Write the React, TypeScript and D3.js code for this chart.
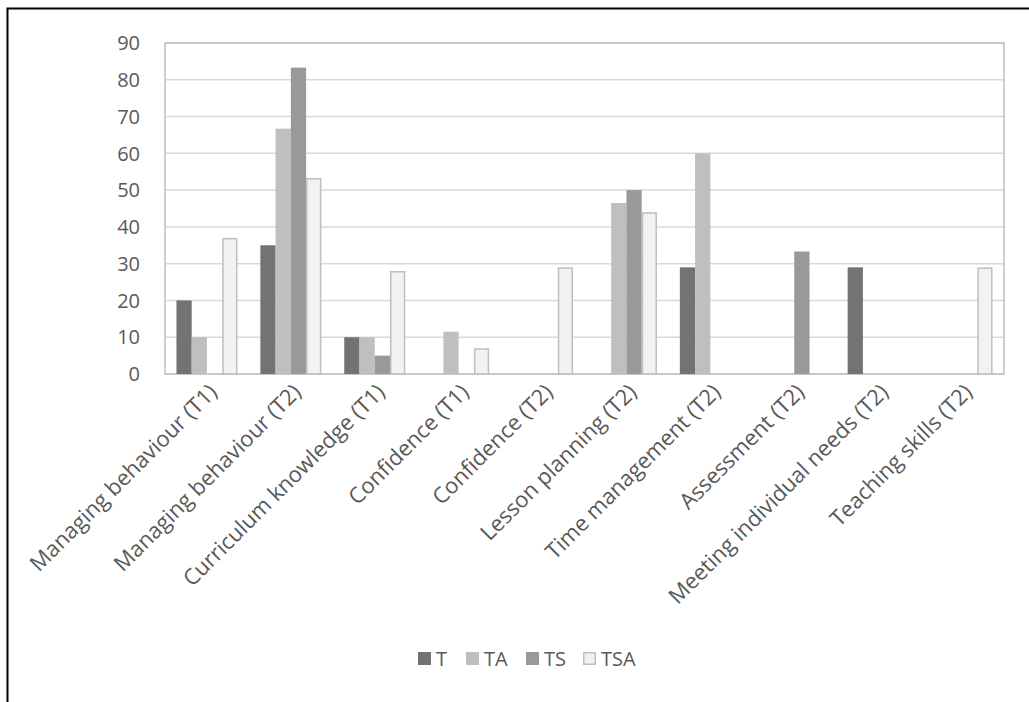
import React from "react";
import * as d3 from "d3";

const categories = [
  "Managing behaviour (T1)",
  "Managing behaviour (T2)",
  "Curriculum knowledge (T1)",
  "Confidence (T1)",
  "Confidence (T2)",
  "Lesson planning (T2)",
  "Time management (T2)",
  "Assessment (T2)",
  "Meeting individual needs (T2)",
  "Teaching skills (T2)",
];

const seriesNames = ["T", "TA", "TS", "TSA"];
const valuesT = [20, 35, 10, 0, 0, 0, 29, 0, 29, 0];
const valuesTA = [10, 66.7, 10, 11.5, 0, 46.5, 60, 0, 0, 0];
const valuesTS = [0, 83.3, 5, 0, 0, 50, 0, 33.3, 0, 0];
const valuesTSA = [37, 53.3, 28, 7, 29, 44, 0, 0, 0, 29];
const yTicks = [0, 10, 20, 30, 40, 50, 60, 70, 80, 90];

const fills = ["#737373", "#bfbfbf", "#999999", "#f2f2f2"];
const strokes = ["none", "none", "none", "#bfbfbf"];

const W = 1029;
const H = 702;
const left = 165;
const right = 1004;
const top = 43;
const bottom = 374;
const font = "'Open Sans', Lato, sans-serif";
const textColor = "#595959";

export default function App() {
  const series = [valuesT, valuesTA, valuesTS, valuesTSA];
  const x = d3.scaleBand<string>().domain(categories).range([left, right]).padding(0);
  const bw = x.bandwidth() / 5.5;
  const xs = d3
    .scaleBand<string>()
    .domain(seriesNames)
    .range([0, bw * 4])
    .padding(0);
  const y = d3.scaleLinear().domain([0, 90]).range([bottom, top]);

  return (
    <svg
      width={W}
      height={H}
      style={{ position: "absolute", left: 0, top: 0, background: "#fff" }}
      fontFamily={font}
    >
      <rect x={0} y={0} width={W} height={H} fill="#fff" />
      {/* outer frame */}
      <path d={`M7.5,${H} V8.5 H${W}`} fill="none" stroke="#000" strokeWidth={2} />

      {/* gridlines */}
      {yTicks.map((t) => (
        <line
          key={t}
          x1={left}
          x2={right}
          y1={y(t)}
          y2={y(t)}
          stroke="#d9d9d9"
          strokeWidth={1.5}
        />
      ))}
      {/* plot border */}
      <rect
        x={left}
        y={top}
        width={right - left}
        height={bottom - top}
        fill="none"
        stroke="#bfbfbf"
        strokeWidth={1.5}
      />

      {/* y tick labels */}
      {yTicks.map((t) => (
        <text
          key={t}
          x={140}
          y={y(t)}
          dy="0.36em"
          textAnchor="end"
          fontSize={20}
          fill={textColor}
        >
          {t}
        </text>
      ))}

      {/* bars */}
      {categories.map((c, i) => {
        const x0 = (x(c) as number) + (x.bandwidth() - bw * 4) / 2;
        return seriesNames.map((s, j) => {
          const v = series[j][i];
          if (v <= 0) return null;
          const isOutlined = strokes[j] !== "none";
          return (
            <rect
              key={c + s}
              x={x0 + (xs(s) as number) + (isOutlined ? 0.75 : 0)}
              y={y(v) + (isOutlined ? 0.75 : 0)}
              width={bw - (isOutlined ? 1.5 : 0)}
              height={bottom - y(v) - (isOutlined ? 0.75 : 0)}
              fill={fills[j]}
              stroke={strokes[j]}
              strokeWidth={1.5}
            />
          );
        });
      })}

      {/* x category labels */}
      {categories.map((c) => {
        const cx = (x(c) as number) + x.bandwidth() / 2 + 6;
        const cy = bottom + 14;
        return (
          <text
            key={c}
            transform={`translate(${cx},${cy}) rotate(-45)`}
            textAnchor="end"
            dy="0.35em"
            fontSize={22}
            fill={textColor}
          >
            {c}
          </text>
        );
      })}

      {/* legend */}
      {seriesNames.map((s, j) => {
        const lx = [418, 466, 526, 583][j];
        const isOutlined = strokes[j] !== "none";
        return (
          <g key={s}>
            <rect
              x={lx + (isOutlined ? 0.75 : 0)}
              y={652 + (isOutlined ? 0.75 : 0)}
              width={13 - (isOutlined ? 1.5 : 0)}
              height={13 - (isOutlined ? 1.5 : 0)}
              fill={fills[j]}
              stroke={strokes[j]}
              strokeWidth={1.5}
            />
            <text x={lx + 18} y={659} dy="0.36em" fontSize={20} fill={textColor}>
              {s}
            </text>
          </g>
        );
      })}
    </svg>
  );
}
